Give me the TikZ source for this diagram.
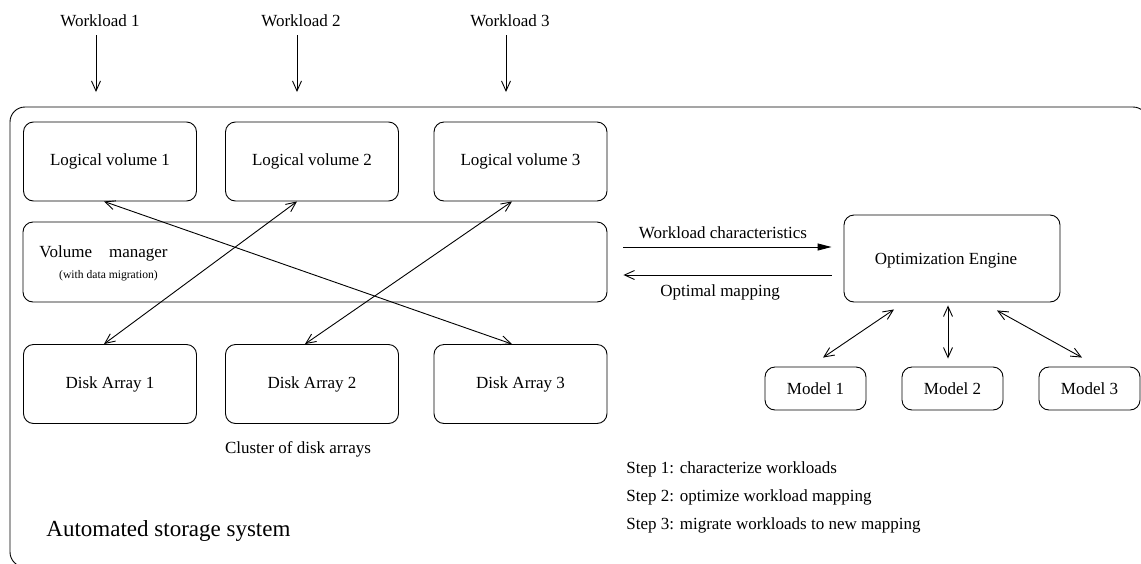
\documentclass[tikz,border=0pt]{standalone}
\usepackage{fontspec}
\setmainfont{Liberation Serif}
\usetikzlibrary{arrows.meta}
\begin{document}
\begin{tikzpicture}[x=1pt,y=-1pt,
  line width=0.9pt,
  txt/.style={inner sep=0pt, font=\fontsize{17}{20}\selectfont},
  box/.style={draw, rounded corners=10pt, inner sep=0pt,
    minimum width=173pt, minimum height=79pt, font=\fontsize{17}{20}\selectfont},
  modelbox/.style={draw, rounded corners=10pt, inner sep=0pt,
    minimum width=101pt, minimum height=43pt, font=\fontsize{17}{20}\selectfont},
  arr/.style={-{Straight Barb[length=10pt,width=9pt]}},
  dbl/.style={{Straight Barb[length=10pt,width=9pt]}-{Straight Barb[length=10pt,width=9pt]}},
  farr/.style={-{Triangle[length=14pt,width=7pt]}}
]
\useasboundingbox (0,0) rectangle (1141,563);

% system frame
\draw[rounded corners=15pt] (10,107) rectangle (1148,567);

% incoming workloads
\node[txt] (w1) at (100,21) {Workload 1};
\node[txt] (w2) at (301,21) {Workload 2};
\node[txt] (w3) at (510,21) {Workload 3};
\coordinate (in1) at (96,92);
\coordinate (in2) at (297,92);
\coordinate (in3) at (506,92);
\draw[arr] ([xshift=-4pt,yshift=-8pt]w1.south) -- (in1);
\draw[arr] ([xshift=-4pt,yshift=-8pt]w2.south) -- (in2);
\draw[arr] ([xshift=-4pt,yshift=-8pt]w3.south) -- (in3);

% logical volumes
\node[box] (lv1) at (110,161.5) {Logical volume 1};
\node[box] (lv2) at (312,161.5) {Logical volume 2};
\node[box] (lv3) at (520.5,161.5) {Logical volume 3};

% volume manager
\node[draw, rounded corners=10pt, minimum width=584pt, minimum height=80pt, inner sep=0pt] (vm) at (315,262) {};
\node[txt, anchor=west] (vmt) at (39,253) {Volume\hspace{17pt}manager};
\node[inner sep=0pt, font=\fontsize{11.6}{14}\selectfont] (vms) at (108.5,276) {(with data migration)};

% disk arrays
\node[box] (da1) at (110,384) {Disk Array 1};
\node[box] (da2) at (312,384) {Disk Array 2};
\node[box] (da3) at (520.5,384) {Disk Array 3};
\node[txt] (cl) at (298,449) {Cluster of disk arrays};

% mapping between volumes and arrays
\draw[dbl] ([xshift=-6pt]lv1.south) -- ([xshift=-8.5pt]da3.north);
\draw[dbl] ([xshift=-15pt]lv2.south) -- ([xshift=-6pt]da1.north);
\draw[dbl] ([xshift=-8.5pt]lv3.south) -- ([xshift=-7pt]da2.north);

% optimization engine and models
\node[draw, rounded corners=10pt, minimum width=216pt, minimum height=87pt, inner sep=0pt] (oe) at (952,258.5) {};
\node[txt] (oet) at (946,261) {Optimization Engine};
\node[modelbox] (m1) at (815.5,388.5) {Model 1};
\node[modelbox] (m2) at (952.5,388.5) {Model 2};
\node[modelbox] (m3) at (1089.5,388.5) {Model 3};
\draw[dbl] ([xshift=-58pt,yshift=-7pt]oe.south) -- ([xshift=7.5pt,yshift=9pt]m1.north);
\draw[dbl] ([xshift=-4pt,yshift=-3pt]oe.south) -- ([xshift=-4.5pt,yshift=8pt]m2.north);
\draw[dbl] ([xshift=45pt,yshift=-8pt]oe.south) -- ([xshift=-7.5pt,yshift=9pt]m3.north);

% exchange between volume manager and engine
\draw[farr] ([xshift=16pt]vm.east |- 0,247) -- ([xshift=-12pt]oe.west |- 0,247);
\draw[arr] ([xshift=-12pt]oe.west |- 0,275) -- ([xshift=16pt]vm.east |- 0,275);
\node[txt] (wc) at (723,233) {Workload characteristics};
\node[txt] (om) at (720,292) {Optimal mapping};

% steps
\node[txt, anchor=west] (s1) at (626,469) {Step 1: characterize workloads};
\node[txt, anchor=west] (s2) at (626,497) {Step 2: optimize workload mapping};
\node[txt, anchor=west] (s3) at (626,525) {Step 3: migrate workloads to new mapping};

% system label
\node[inner sep=0pt, anchor=west, font=\fontsize{23}{27}\selectfont] (sys) at (46,531) {Automated storage system};
\end{tikzpicture}
\end{document}
